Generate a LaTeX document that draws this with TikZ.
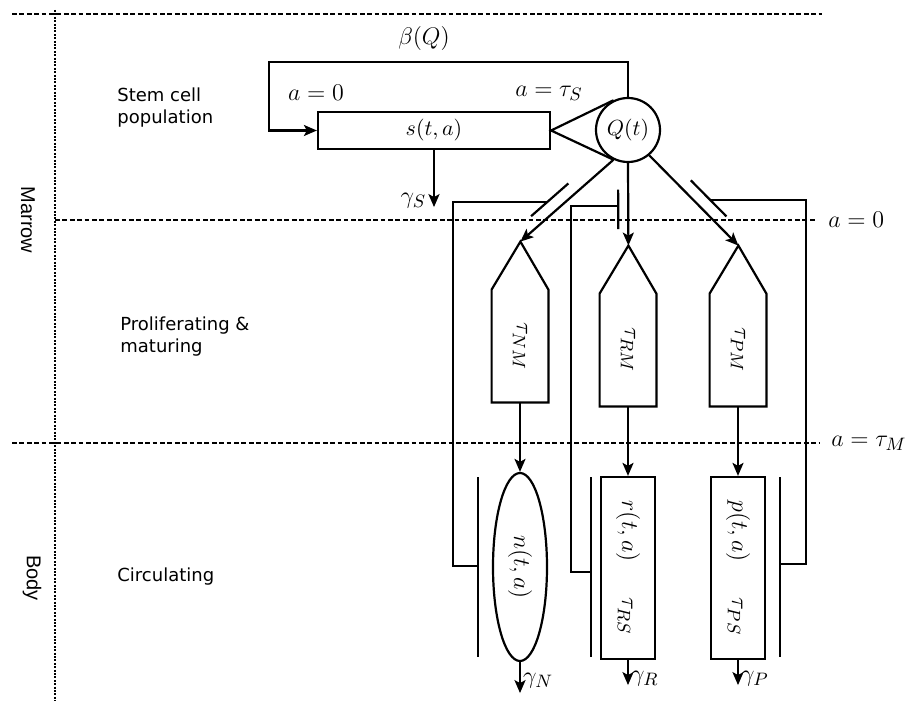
\documentclass[tikz,border=0pt]{standalone}
\usepackage{fontspec}
\setsansfont{DejaVu Sans}
\newfontfamily\sidefont{Liberation Sans}
\DeclareMathSizes{12}{12}{9.5}{7}
\usepackage{tikz}
\usetikzlibrary{arrows.meta,positioning,calc,shapes.geometric}
\tikzset{
  hem/math/.style={font=\fontsize{12}{14}\selectfont},
  hem/stem/.style={
    draw,
    line width=1.1pt,
    minimum width=116pt,
    minimum height=18.5pt,
    inner sep=0pt,
    font=\fontsize{11}{13}\selectfont
  },
  hem/pool/.style={circle, draw, line width=1.1pt, minimum size=32pt, inner sep=0pt, font=\fontsize{11}{13}\selectfont},
  hem/stage/.style={minimum width=28pt, minimum height=56pt, inner sep=0pt, hem/math},
  hem/cell/.style={ellipse, draw, line width=1.1pt, minimum width=27pt, minimum height=94pt, inner sep=0pt, hem/math},
  hem/box/.style={draw, line width=1.1pt, minimum width=27pt, minimum height=91pt, inner sep=0pt, hem/math},
  hem/line/.style={line width=1.1pt},
  hem/arrow/.style={-{Stealth[length=6.5pt,width=5.5pt,inset=1.5pt]}, line width=1.1pt},
  hem/dash/.style={line width=0.8pt, dash pattern=on 2.4pt off 1.3pt},
  hem/dots/.style={line width=0.9pt, dash pattern=on 1pt off 0.7pt},
  hem/region/.style={font=\sffamily\fontsize{9}{11}\selectfont, align=left, anchor=west, inner sep=0pt},
  hem/side/.style={font=\sidefont\fontsize{10}{12}\selectfont, rotate=-90, inner sep=0pt}
}

\begin{document}
\begin{tikzpicture}[x=0.5pt,y=-0.5pt]
  \useasboundingbox (0,0) rectangle (906,701);

  % compartments
  \draw[hem/dash] (12,14) -- (822,14);
  \draw[hem/dash] (55,220) -- (815,220) node[right, hem/math, xshift=3pt] (lvl0) {$a=0$};
  \draw[hem/dash] (12,443) -- (820,443) node[right, hem/math, xshift=2pt] (lvlM) {$a=\tau_M$};
  \draw[hem/dots] (55,10) -- (55,701);
  \node[hem/side] (marrow) at (28,220) {Marrow};
  \node[hem/side] (body) at (32,578) {Body};
  \node[hem/region] (stemlbl) at (117,108) {Stem cell\\population};
  \node[hem/region] (prolbl) at (120,337) {Proliferating \&\\maturing};
  \node[hem/region] (circlbl) at (117,577) {Circulating};

  % stem cells
  \node[hem/stem] (s) at (434,130.5) {$s(t,a)$};
  \node[hem/pool] (Q) at (628,130) {$Q(t)$};
  \draw[hem/line] (tangent cs:node=Q,point={(s.east)},solution=1) -- (s.east)
    -- (tangent cs:node=Q,point={(s.east)},solution=2);
  \draw[hem/arrow] (Q.north) -- ++(0,-35) -| ($(s.west)+(-48,0)$) -- (s.west);
  \node[hem/math] (beta) at (424,39) {$\beta(Q)$};
  \node[hem/math] (age0) at (316,93) {$a=0$};
  \node[hem/math] (ageS) at (549,93) {$a=\tau_S$};
  \draw[hem/arrow] (s.south) -- ++(0,57) node[left, hem/math, yshift=3pt] (gS) {$\gamma_S$};

  % proliferating and maturing
  \node[hem/stage] (N) at (520,346) {\rotatebox{-90}{$\tau_{NM}$}};
  \draw[hem/line] (N.north east) -- ++(-28,-48) coordinate (Ntip) -- (N.north west)
    -- (N.south west) -- (N.south east) -- cycle;
  \node[hem/stage] (R) at (628,350) {\rotatebox{-90}{$\tau_{RM}$}};
  \draw[hem/line] (R.north east) -- ++(-28,-48) coordinate (Rtip) -- (R.north west)
    -- (R.south west) -- (R.south east) -- cycle;
  \node[hem/stage] (P) at (738,350) {\rotatebox{-90}{$\tau_{PM}$}};
  \draw[hem/line] (P.north east) -- ++(-28,-48) coordinate (Ptip) -- (P.north west)
    -- (P.south west) -- (P.south east) -- cycle;

  \draw[hem/arrow] (Q.-116) -- (Ntip);
  \draw[hem/arrow] (Q.south) -- (Rtip);
  \draw[hem/arrow] (Q.-50) -- (Ptip);

  % feedback marks
  \draw[hem/line] ($(Q.-116)!0.40!(Ntip)!6pt!-90:(Ntip)$) -- ($(Q.-116)!0.80!(Ntip)!6pt!-90:(Ntip)$);
  \coordinate (Nhit) at ($(Q.-116)!0.63!(Ntip)!6pt!-90:(Ntip)$);
  \draw[hem/line] ($(Q.south)!0.32!(Rtip)!5pt!-90:(Rtip)$) -- ($(Q.south)!0.80!(Rtip)!5pt!-90:(Rtip)$);
  \coordinate (Rhit) at ($(Q.south)!0.52!(Rtip)!5pt!-90:(Rtip)$);
  \draw[hem/line] ($(Q.-50)!0.37!(Ptip)!6pt!90:(Ptip)$) -- ($(Q.-50)!0.77!(Ptip)!6pt!90:(Ptip)$);
  \coordinate (Phit) at ($(Q.-50)!0.59!(Ptip)!6pt!90:(Ptip)$);

  % circulating
  \node[hem/cell] (n) at (520,567) {\rotatebox{-90}{$n(t,a)$}};
  \node[hem/box] (r) at (628,568) {\rotatebox{-90}{$r(t,a)\hspace{1.5em}\tau_{RS}$}};
  \node[hem/box] (p) at (738,568) {\rotatebox{-90}{$p(t,a)\hspace{1.5em}\tau_{PS}$}};
  \draw[hem/arrow] (N.south) -- (n.north);
  \draw[hem/arrow] (R.south) -- (r.north);
  \draw[hem/arrow] (P.south) -- (p.north);
  \draw[hem/arrow] (n.south) -- ++(0,31) node[right, hem/math, inner sep=1pt, yshift=6pt] (gN) {$\gamma_N$};
  \draw[hem/arrow] (r.south) -- ++(0,25) node[right, hem/math, inner sep=1pt, yshift=3pt] (gR) {$\gamma_R$};
  \draw[hem/arrow] (p.south) -- ++(0,25) node[right, hem/math, inner sep=1pt, yshift=3pt] (gP) {$\gamma_P$};

  \draw[hem/line] (478,477) -- (478,657);
  \draw[hem/line] (591,477) -- (591,657);
  \draw[hem/line] (780,477) -- (780,657);
  \coordinate (nbar) at (478,566);
  \coordinate (rbar) at (591,572);
  \coordinate (pbar) at (780,564);
  \draw[hem/line] (nbar) -- ++(-25,0) |- (Nhit);
  \draw[hem/line] (rbar) -- ++(-20,0) |- (Rhit);
  \draw[hem/line] (pbar) -- ++(26,0) |- (Phit);
\end{tikzpicture}
\end{document}
